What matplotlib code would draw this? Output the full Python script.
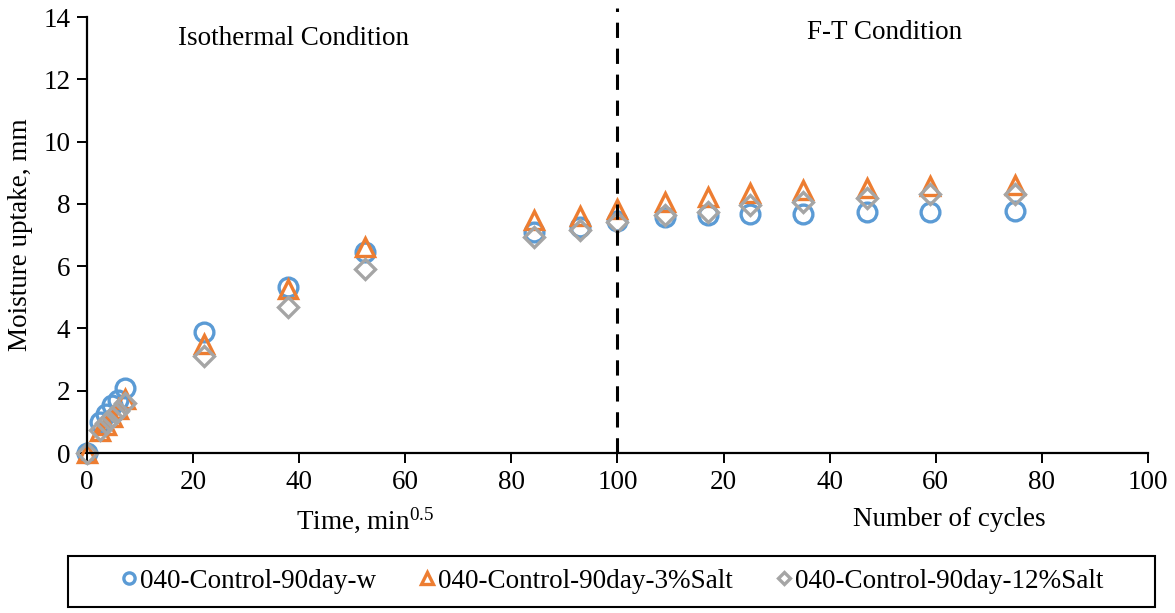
import numpy as np
import matplotlib.pyplot as plt
from matplotlib.patches import Rectangle

plt.rcParams["font.family"] = ["Liberation Serif", "DejaVu Serif"]
plt.rcParams["mathtext.fontset"] = "custom"
plt.rcParams["mathtext.rm"] = "Liberation Serif"

# isothermal part: time in min^0.5
iso_time = [0, 2.4, 3.5, 4.8, 5.8, 7.1, 22.0, 37.9, 52.4, 84.2, 93.0]
# freeze-thaw part: number of cycles (drawn shifted by 100)
ft_cycles = [0, 9, 17, 25, 35, 47, 59, 75]

w_iso = [0, 1.0, 1.25, 1.55, 1.7, 2.1, 3.9, 5.32, 6.46, 7.11, 7.25]
w_ft = [7.46, 7.59, 7.63, 7.67, 7.68, 7.73, 7.73, 7.77]

s3_iso = [0, 0.7, 0.9, 1.15, 1.4, 1.75, 3.5, 5.27, 6.62, 7.49, 7.62]
s3_ft = [7.83, 8.07, 8.23, 8.35, 8.46, 8.52, 8.58, 8.6]

s12_iso = [0, 0.75, 0.95, 1.15, 1.35, 1.6, 3.1, 4.68, 5.92, 6.93, 7.16]
s12_ft = [7.43, 7.64, 7.75, 7.96, 8.07, 8.18, 8.32, 8.33]

labels = ["040-Control-90day-w", "040-Control-90day-3%Salt", "040-Control-90day-12%Salt"]
x_ticks = np.arange(0, 201, 20)
x_ticklabels = ["0", "20", "40", "60", "80", "100", "20", "40", "60", "80", "100"]

x_all = np.concatenate([iso_time, np.array(ft_cycles) + 100])
FS = 19.5

fig = plt.figure(figsize=(11.75, 6.13), dpi=100)
ax = fig.add_axes([0.074, 0.261, 0.903, 0.711])

styles = [
    dict(marker="o", color="#5B9BD5", ms=13.5),
    dict(marker="^", color="#ED7D31", ms=13.5),
    dict(marker="D", color="#A5A5A5", ms=10),
]
series = [w_iso + w_ft, s3_iso + s3_ft, s12_iso + s12_ft]

handles = []
for y, st, lab in zip(series, styles, labels):
    h, = ax.plot(x_all, y, linestyle="none", marker=st["marker"], ms=st["ms"],
                 mfc="none", mec=st["color"], mew=2.4, label=lab, clip_on=False)
    handles.append(h)

ax.axvline(100, ymin=0, ymax=1.02, color="black", lw=2.2, ls=(0, (5, 3.5)), clip_on=False)

ax.set_xlim(0, 200)
ax.set_ylim(0, 14)
ax.set_xticks(x_ticks)
ax.set_xticklabels(x_ticklabels)
ax.set_yticks(np.arange(0, 15, 2))
ax.tick_params(direction="out", length=7, width=1.4, labelsize=FS, pad=5)
for s in ["top", "right"]:
    ax.spines[s].set_visible(False)
for s in ["left", "bottom"]:
    ax.spines[s].set_linewidth(1.6)

ax.text(17.2, 13.3, "Isothermal Condition", fontsize=FS, va="center", ha="left")
ax.text(135.7, 13.5, "F-T Condition", fontsize=FS, va="center", ha="left")

ax.set_ylabel("Moisture uptake, mm", fontsize=FS, labelpad=7)
fig.text(0.252, 0.152, r"Time, min$\mathregular{^{0.5}}$", fontsize=FS, ha="left", va="center")
fig.text(0.726, 0.152, "Number of cycles", fontsize=FS, ha="left", va="center")

# legend box drawn separately, it is wider than the entries
fig.patches.append(Rectangle((0.058, 0.010), 0.925, 0.083, transform=fig.transFigure,
                             fill=False, edgecolor="black", lw=1.5))
fig.legend(handles=handles, loc="center", bbox_to_anchor=(0.521, 0.052),
           ncol=3, fontsize=FS, frameon=False, markerscale=0.6, handlelength=0.6,
           handletextpad=0.1, columnspacing=1.6, borderpad=0.3, borderaxespad=0)

fig.savefig("out.png", dpi=100)
